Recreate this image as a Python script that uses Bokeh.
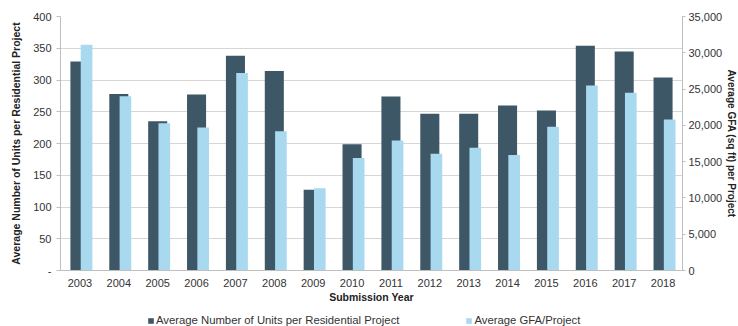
import math
from bokeh.plotting import figure
from bokeh.layouts import column
from bokeh.models import (FactorRange, Range1d, LinearAxis, Legend, LegendItem, Title,
                          ColumnDataSource, FixedTicker, NumeralTickFormatter)
from bokeh.transform import dodge
from bokeh.embed import file_html
from bokeh.resources import INLINE

years = ["2003", "2004", "2005", "2006", "2007", "2008", "2009", "2010",
         "2011", "2012", "2013", "2014", "2015", "2016", "2017", "2018"]
units = [329, 278, 235, 277, 338, 314, 127, 199, 274, 247, 247, 260, 252, 354, 345, 304]
gfa = [31100, 24000, 20300, 19700, 27200, 19200, 11350, 15500, 17900, 16100, 16900,
       15900, 19800, 25500, 24500, 20800]
left_ticks = [0, 50, 100, 150, 200, 250, 300, 350, 400]
right_ticks = [0, 5000, 10000, 15000, 20000, 25000, 30000, 35000]
series_names = ["Average Number of Units per Residential Project", "Average GFA/Project"]

DARK = "#3d5766"
LIGHT = "#a8d9ef"
FONT = "Liberation Sans"

src = ColumnDataSource(dict(year=years, units=units, gfa=gfa))

p = figure(x_range=FactorRange(factors=years), y_range=Range1d(0, 400),
           width=738, height=308, output_backend="svg", toolbar_location=None,
           min_border_left=60, min_border_right=52, min_border_top=16, min_border_bottom=38)
p.extra_y_ranges = {"gfa": Range1d(0, 35000)}
p.outline_line_color = None
p.background_fill_color = "white"
p.border_fill_color = "white"

r_dark = p.vbar(x=dodge("year", 0, range=p.x_range), top="units", width=0.49, source=src,
                fill_color=DARK, line_color=None)
r_light = p.vbar(x=dodge("year", 0.17, range=p.x_range), top="gfa", width=0.3, source=src,
                 y_range_name="gfa", fill_color=LIGHT, line_color=None)

p.xgrid.grid_line_color = None
p.ygrid.grid_line_color = "#d6d6d6"
p.ygrid.ticker = FixedTicker(ticks=left_ticks)

ax = p.xaxis[0]
ax.axis_label = "Submission Year"
ax.axis_label_text_font = FONT
ax.axis_label_text_font_style = "bold"
ax.axis_label_text_font_size = "10.5px"
ax.axis_label_text_color = "#222222"
ax.axis_label_standoff = 1
ax.major_label_standoff = 2
ax.major_label_text_font = FONT
ax.major_label_text_font_size = "11px"
ax.major_label_text_color = "#333333"
ax.axis_line_color = "#bfbfbf"
ax.major_tick_line_color = None
ax.minor_tick_line_color = None

ay = p.yaxis[0]
ay.ticker = FixedTicker(ticks=left_ticks)
ay.major_label_overrides = {0: "-"}
ay.axis_label = "Average Number of Units per Residential Project"
ay.axis_label_text_font = FONT
ay.axis_label_text_font_style = "bold"
ay.axis_label_text_font_size = "10.5px"
ay.axis_label_text_color = "#222222"
ay.axis_label_standoff = 8
ay.major_label_text_font = FONT
ay.major_label_text_font_size = "11px"
ay.major_label_text_color = "#333333"
ay.axis_line_color = "#bfbfbf"
ay.major_tick_line_color = "#bfbfbf"
ay.major_tick_out = 4
ay.major_tick_in = 0
ay.minor_tick_line_color = None

ar = LinearAxis(y_range_name="gfa", ticker=FixedTicker(ticks=right_ticks),
                formatter=NumeralTickFormatter(format="0,0"))
ar.major_label_text_font = FONT
ar.major_label_text_font_size = "11px"
ar.major_label_text_color = "#333333"
ar.major_label_standoff = 3
ar.axis_line_color = "#bfbfbf"
ar.major_tick_line_color = "#bfbfbf"
ar.major_tick_out = 3
ar.major_tick_in = 0
ar.minor_tick_line_color = None
p.add_layout(ar, "right")

right_title = Title(text="Average GFA (sq ft) per Project", align="center",
                    text_font=FONT, text_font_style="bold", text_font_size="10px",
                    text_color="#222222", standoff=0, offset=0)
p.add_layout(right_title, "right")

# legend strip (frame aligned with the chart frame by the column layout)
q = figure(width=738, height=18, x_range=Range1d(0, 10), y_range=Range1d(0, 10),
           output_backend="svg", toolbar_location=None,
           min_border=0, min_border_left=0, min_border_right=0, min_border_top=0, min_border_bottom=0)
q.axis.visible = False
q.grid.visible = False
q.outline_line_color = None
q.border_fill_color = "white"
d1 = q.vbar(x=[-50], top=[-50], width=1, fill_color=DARK, line_color=None)
d2 = q.vbar(x=[-50], top=[-50], width=1, fill_color=LIGHT, line_color=None)
leg = Legend(items=[LegendItem(label=series_names[0], renderers=[d1]),
                    LegendItem(label=series_names[1], renderers=[d2])],
             orientation="horizontal", location=(87, 0), spacing=66,
             glyph_width=7, glyph_height=7, label_standoff=2, padding=0, margin=0,
             border_line_color=None, background_fill_alpha=0,
             label_text_font=FONT, label_text_font_size="11.3px", label_text_color="#333333",
             label_height=12)
q.add_layout(leg, "center")

layout = column(p, q, spacing=0)

with open("out.html", "w") as f:
    f.write(file_html(layout, INLINE))
